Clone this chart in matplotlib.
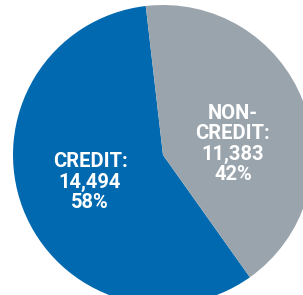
import matplotlib.pyplot as plt

labels = ["CREDIT:\n14,494\n58%", "NON-\nCREDIT:\n11,383\n42%"]
counts = [14494, 11383]
shares = [58, 42]
colors = ["#0069AF", "#9AA4AD"]

fig = plt.figure(figsize=(3.03, 2.95), dpi=100)
ax = fig.add_axes([0, 0, 1, 1])

# pie in pixel coords, center (163,155) from top -> y flipped
ax.pie(shares, colors=colors, startangle=96.6, center=(163, 140), radius=150,
       wedgeprops=dict(linewidth=0))

ax.text(90, 295 - 182, labels[0], color="white", fontsize=14.5, fontweight="bold",
        family="Roboto", ha="center", va="center", linespacing=1.1)
ax.text(233, 295 - 144, labels[1], color="white", fontsize=14.5, fontweight="bold",
        family="Roboto", ha="center", va="center", linespacing=1.1)

ax.set_xlim(0, 303)
ax.set_ylim(0, 295)
ax.set_aspect("equal")
ax.axis("off")

fig.savefig("out.png", dpi=100)
